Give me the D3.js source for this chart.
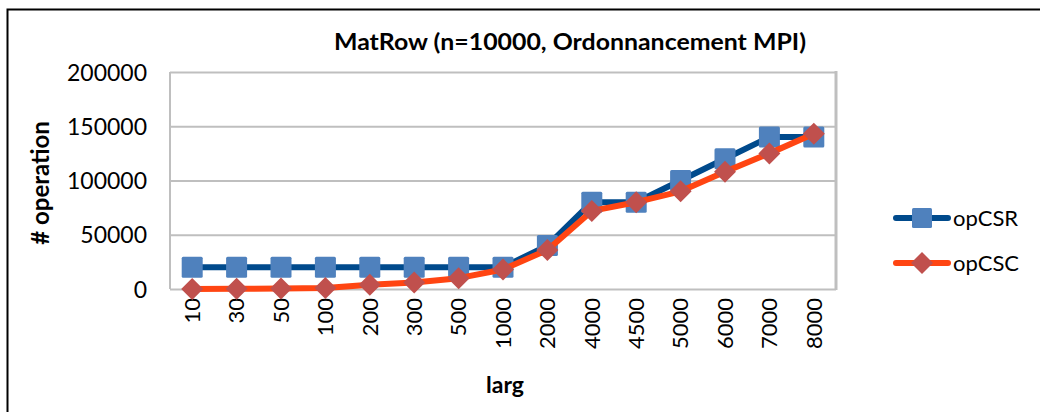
<!DOCTYPE html>
<html>
<head>
<meta charset="utf-8">
<script src="https://cdn.jsdelivr.net/npm/d3@7/dist/d3.min.js"></script>
<style>
  html, body { margin: 0; padding: 0; background: #fff; }
  svg { display: block; }
  text { font-family: Lato, "Open Sans", sans-serif; fill: #000; }
</style>
</head>
<body>
<svg id="chart" width="1040" height="412"></svg>
<script>
// Data
const categories = ["10", "30", "50", "100", "200", "300", "500", "1000", "2000", "4000", "4500", "5000", "6000", "7000", "8000"];
const opCSR = [20000, 20000, 20000, 20000, 20000, 20000, 20000, 20000, 40000, 80000, 80000, 100000, 120000, 140000, 140000];
const opCSC = [100, 200, 500, 1000, 4000, 6000, 10000, 18000, 36000, 72000, 80000, 90000, 108000, 125000, 143000];
const yTicks = [0, 50000, 100000, 150000, 200000];

const svg = d3.select("#chart");
const W = 1040, H = 412;
const plot = { left: 170, right: 836, top: 72, bottom: 289 };

// Outer chart frame
svg.append("rect")
  .attr("x", 7.5).attr("y", 9.5)
  .attr("width", W + 20).attr("height", H + 20)
  .attr("fill", "none").attr("stroke", "#000").attr("stroke-width", 2);

const x = d3.scaleBand().domain(categories).range([plot.left, plot.right]);
const y = d3.scaleLinear().domain([0, 200000]).range([plot.bottom, plot.top]);
const cx = d => x(d) + x.bandwidth() / 2;

// Gridlines and y labels
const yAxis = d3.axisLeft(y).tickValues(yTicks).tickSize(-(plot.right - plot.left)).tickPadding(24).tickFormat(d3.format("d"));
const gy = svg.append("g").attr("transform", `translate(${plot.left},0)`).call(yAxis);
gy.select(".domain").remove();
gy.selectAll(".tick line").attr("stroke", "#BFBFBF").attr("stroke-width", 2);
gy.selectAll(".tick text").attr("font-size", 23).attr("fill", "#000").attr("dy", "0.35em")
  .attr("x", -23);

// Plot area side borders
svg.append("line").attr("x1", plot.left).attr("x2", plot.left).attr("y1", plot.top).attr("y2", plot.bottom)
  .attr("stroke", "#BFBFBF").attr("stroke-width", 2);
svg.append("line").attr("x1", plot.right).attr("x2", plot.right).attr("y1", plot.top - 1).attr("y2", plot.bottom + 1)
  .attr("stroke", "#BFBFBF").attr("stroke-width", 3);

// X labels (rotated)
const xAxis = d3.axisBottom(x).tickSize(0).tickPadding(0);
const gx = svg.append("g").attr("transform", `translate(0,${plot.bottom})`).call(xAxis);
gx.select(".domain").remove();
gx.selectAll(".tick text")
  .attr("font-size", 22)
  .attr("text-anchor", "end")
  .attr("transform", "translate(0,9) rotate(-90)")
  .attr("x", 0).attr("y", 0).attr("dy", "0.35em")
  .attr("fill", "#000");

// Series lines
const line = d3.line().x((d, i) => cx(categories[i])).y(d => y(d));

svg.append("path").datum(opCSR).attr("d", line)
  .attr("fill", "none").attr("stroke", "#004A8C").attr("stroke-width", 6).attr("stroke-linejoin", "round");

svg.selectAll(".sq").data(opCSR).join("rect").attr("class", "sq")
  .attr("x", (d, i) => cx(categories[i]) - 10.5).attr("y", d => y(d) - 10.5)
  .attr("width", 21).attr("height", 21).attr("rx", 1.5)
  .attr("fill", "#4F81BD");

svg.append("path").datum(opCSC).attr("d", line)
  .attr("fill", "none").attr("stroke", "#FF4512").attr("stroke-width", 6).attr("stroke-linejoin", "round");

const diamond = (px, py, r) => `M${px},${py - r}L${px + r},${py}L${px},${py + r}L${px - r},${py}Z`;
svg.selectAll(".dm").data(opCSC).join("path").attr("class", "dm")
  .attr("d", (d, i) => diamond(cx(categories[i]), y(d), 11))
  .attr("fill", "#C0504D");

// Title and axis titles
svg.append("text").attr("x", 570).attr("y", 50).attr("text-anchor", "middle")
  .attr("font-size", 23).attr("font-weight", "bold")
  .attr("textLength", 472).attr("lengthAdjust", "spacingAndGlyphs")
  .text("MatRow (n=10000, Ordonnancement MPI)");

svg.append("text").attr("transform", "translate(49,183) rotate(-90)").attr("text-anchor", "middle")
  .attr("font-size", 24).attr("font-weight", "bold").text("# operation");

svg.append("text").attr("x", 505).attr("y", 393).attr("text-anchor", "middle")
  .attr("font-size", 23).attr("font-weight", "bold").text("larg");

// Legend
const legend = [
  { name: "opCSR", stroke: "#004A8C", fill: "#4F81BD", shape: "square", y: 218 },
  { name: "opCSC", stroke: "#FF4512", fill: "#C0504D", shape: "diamond", y: 263 }
];
legend.forEach(l => {
  svg.append("line").attr("x1", 896).attr("x2", 948).attr("y1", l.y).attr("y2", l.y)
    .attr("stroke", l.stroke).attr("stroke-width", 6).attr("stroke-linecap", "round");
  if (l.shape === "square") {
    svg.append("rect").attr("x", 912).attr("y", l.y - 10).attr("width", 20).attr("height", 20).attr("rx", 1.5).attr("fill", l.fill);
  } else {
    svg.append("path").attr("d", diamond(922, l.y, 11)).attr("fill", l.fill);
  }
  svg.append("text").attr("x", 953).attr("y", l.y).attr("dy", "0.35em").attr("font-size", 22).text(l.name);
});
</script>
</body>
</html>
